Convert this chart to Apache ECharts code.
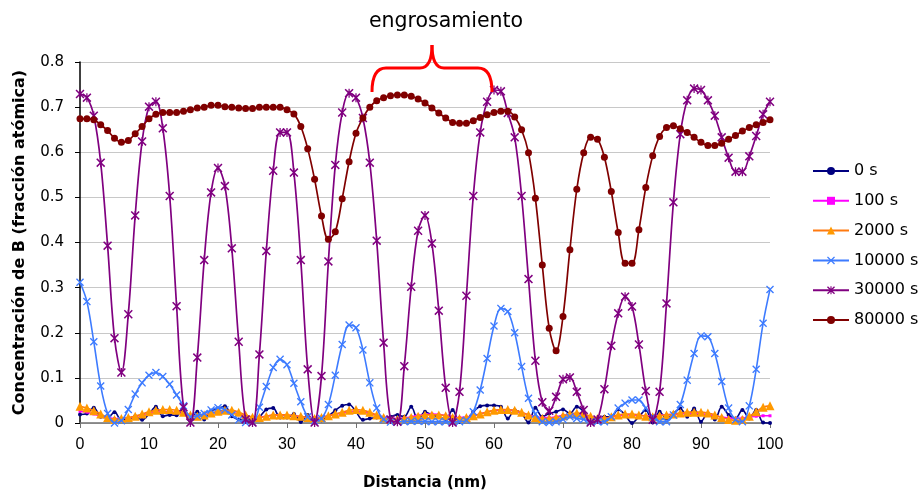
<!DOCTYPE html>
<html>
<head>
<meta charset="utf-8">
<script src="https://cdn.jsdelivr.net/npm/echarts@6/dist/echarts.min.js"></script>
<style>
html,body{margin:0;padding:0;background:#fff;}
#chart{width:920px;height:496px;}
</style>
</head>
<body>
<div id="chart"></div>
<script>
// ---- data ----
const seriesNames = ['0 s', '100 s', '2000 s', '10000 s', '30000 s', '80000 s'];
const xTicks = [0, 10, 20, 30, 40, 50, 60, 70, 80, 90, 100];
const distance = [0,1,2,3,4,5,6,7,8,9,10,11,12,13,14,15,16,17,18,19,20,21,22,23,24,25,26,27,28,29,30,31,32,33,34,35,36,37,38,39,40,41,42,43,44,45,46,47,48,49,50,51,52,53,54,55,56,57,58,59,60,61,62,63,64,65,66,67,68,69,70,71,72,73,74,75,76,77,78,79,80,81,82,83,84,85,86,87,88,89,90,91,92,93,94,95,96,97,98,99,100];

const s0 = [0.019,0.021,0.034,0.014,0.012,0.024,0.007,0.008,0.015,0.007,0.020,0.036,0.015,0.018,0.017,0.032,0.010,0.025,0.008,0.027,0.032,0.037,0.015,0.008,0.007,0.003,0.013,0.030,0.033,0.012,0.012,0.020,0.002,0.018,0.004,0.006,0.015,0.028,0.038,0.041,0.025,0.007,0.010,0.012,0.009,0.014,0.018,0.014,0.036,0.007,0.025,0.018,0.014,0.008,0.029,0.003,0.007,0.025,0.037,0.039,0.039,0.036,0.010,0.028,0.021,0.001,0.034,0.014,0.021,0.025,0.030,0.021,0.036,0.025,0.007,0.010,0.014,0.014,0.030,0.018,0.000,0.014,0.029,0.001,0.025,0.010,0.021,0.032,0.014,0.032,0.003,0.021,0.008,0.036,0.018,0.010,0.029,0.010,0.029,0.001,0.000];

const s100 = [0.026,0.024,0.020,0.015,0.012,0.010,0.010,0.011,0.014,0.018,0.022,0.025,0.026,0.025,0.023,0.020,0.017,0.016,0.018,0.021,0.024,0.025,0.024,0.020,0.016,0.013,0.013,0.015,0.017,0.018,0.017,0.016,0.014,0.012,0.012,0.013,0.016,0.019,0.022,0.025,0.026,0.025,0.021,0.017,0.013,0.010,0.010,0.011,0.014,0.017,0.019,0.020,0.019,0.017,0.014,0.012,0.013,0.016,0.020,0.024,0.027,0.029,0.029,0.027,0.023,0.018,0.014,0.012,0.012,0.014,0.017,0.019,0.020,0.018,0.014,0.011,0.011,0.013,0.016,0.018,0.018,0.017,0.016,0.016,0.017,0.018,0.019,0.020,0.021,0.021,0.020,0.019,0.016,0.013,0.011,0.010,0.011,0.013,0.015,0.016,0.016];

const s2000 = [0.037,0.033,0.027,0.020,0.012,0.008,0.010,0.012,0.015,0.020,0.025,0.028,0.030,0.030,0.028,0.024,0.018,0.015,0.018,0.022,0.026,0.028,0.028,0.024,0.018,0.013,0.012,0.015,0.018,0.018,0.018,0.016,0.015,0.012,0.010,0.012,0.016,0.020,0.024,0.028,0.030,0.028,0.024,0.018,0.012,0.008,0.008,0.010,0.012,0.015,0.018,0.018,0.018,0.016,0.012,0.010,0.012,0.016,0.020,0.025,0.028,0.030,0.030,0.028,0.024,0.018,0.012,0.010,0.010,0.012,0.016,0.020,0.022,0.020,0.015,0.010,0.010,0.014,0.018,0.020,0.020,0.018,0.015,0.014,0.016,0.018,0.020,0.022,0.024,0.024,0.024,0.022,0.018,0.012,0.008,0.006,0.008,0.015,0.025,0.035,0.038];

const s10000 = [0.312,0.269,0.180,0.082,0.021,0.000,0.005,0.030,0.064,0.089,0.106,0.112,0.103,0.086,0.062,0.038,0.014,0.016,0.021,0.029,0.034,0.029,0.018,0.007,0.001,0.001,0.035,0.081,0.123,0.141,0.129,0.088,0.047,0.014,0.005,0.010,0.041,0.106,0.174,0.217,0.211,0.162,0.089,0.033,0.008,0.002,0.003,0.003,0.004,0.004,0.004,0.003,0.003,0.003,0.002,0.003,0.006,0.025,0.073,0.143,0.215,0.254,0.247,0.200,0.125,0.055,0.020,0.003,0.001,0.003,0.008,0.014,0.010,0.008,0.003,0.003,0.003,0.014,0.033,0.044,0.051,0.051,0.033,0.014,0.003,0.003,0.018,0.041,0.095,0.154,0.193,0.191,0.154,0.092,0.033,0.007,0.003,0.038,0.119,0.221,0.296];

const s30000 = [0.729,0.721,0.681,0.577,0.393,0.188,0.112,0.241,0.460,0.624,0.701,0.712,0.653,0.503,0.259,0.035,0.001,0.145,0.361,0.511,0.565,0.525,0.387,0.180,0.008,0.001,0.152,0.381,0.559,0.644,0.644,0.555,0.361,0.119,0.001,0.104,0.358,0.572,0.688,0.731,0.721,0.676,0.577,0.404,0.178,0.008,0.003,0.126,0.302,0.426,0.460,0.398,0.249,0.078,0.001,0.069,0.282,0.503,0.644,0.712,0.738,0.735,0.687,0.633,0.503,0.319,0.138,0.046,0.027,0.058,0.097,0.101,0.069,0.029,0.001,0.008,0.075,0.171,0.243,0.280,0.258,0.174,0.071,0.007,0.069,0.265,0.489,0.640,0.715,0.741,0.738,0.715,0.681,0.633,0.588,0.557,0.557,0.591,0.636,0.684,0.712];

const s80000 = [0.674,0.674,0.672,0.661,0.648,0.631,0.622,0.626,0.641,0.657,0.674,0.684,0.688,0.688,0.688,0.691,0.694,0.698,0.700,0.704,0.704,0.701,0.700,0.698,0.697,0.697,0.700,0.700,0.700,0.700,0.694,0.685,0.657,0.608,0.540,0.459,0.407,0.424,0.497,0.579,0.642,0.676,0.700,0.714,0.721,0.725,0.727,0.727,0.724,0.718,0.709,0.698,0.687,0.676,0.666,0.664,0.664,0.670,0.677,0.683,0.688,0.691,0.691,0.678,0.650,0.599,0.498,0.350,0.210,0.160,0.236,0.384,0.518,0.599,0.633,0.629,0.589,0.513,0.422,0.354,0.354,0.428,0.522,0.592,0.635,0.655,0.659,0.652,0.644,0.633,0.622,0.615,0.615,0.620,0.629,0.637,0.647,0.655,0.661,0.666,0.672];

const annotationText = 'engrosamiento';
const xAxisTitle = 'Distancia (nm)';
const yAxisTitle = 'Concentración de B (fracción atómica)';

// ---- chart ----
const pair = arr => distance.map((x, i) => [x, arr[i]]);
const xSym = 'path://M0,1.2L1.2,0L5,3.8L8.8,0L10,1.2L6.2,5L10,8.8L8.8,10L5,6.2L1.2,10L0,8.8L3.8,5Z';
const starSym = 'path://M0,1.2L1.2,0L5,3.8L8.8,0L10,1.2L6.2,5L10,8.8L8.8,10L5,6.2L1.2,10L0,8.8L3.8,5ZM4.3,0L5.7,0L5.7,10L4.3,10Z';

const styles = [
  {line:'#000080', item:'#000080', symbol:'circle', size:4, width:1.6},
  {line:'#ff00ff', item:'#ff00ff', symbol:'rect', size:3, width:1.6},
  {line:'#ff7a10', item:'#ff9900', symbol:'triangle', size:9, width:1.6},
  {line:'#3d7bff', item:'#3d7bff', symbol:xSym, size:8, width:1.6},
  {line:'#800080', item:'#800080', symbol:starSym, size:9, width:1.7},
  {line:'#800000', item:'#800000', symbol:'circle', size:7, width:1.7}
];
const dataSets = [s0, s100, s2000, s10000, s30000, s80000];

const chart = echarts.init(document.getElementById('chart'), null, {renderer:'canvas'});
const wide = '"DejaVu Sans", "Liberation Sans", sans-serif';
const font = '"Liberation Sans", Arial, sans-serif';
const braceStyle = {stroke: '#ff0000', lineWidth: 3, fill: null};

chart.setOption({
  animation: false,
  backgroundColor: '#ffffff',
  textStyle: {fontFamily: wide},
  grid: {left: 80, right: 150, top: 62, bottom: 73, containLabel: false},
  legend: {
    orient: 'vertical',
    left: 807, top: 158,
    itemWidth: 36, itemHeight: 10, itemGap: 13.8,
    data: seriesNames,
    textStyle: {fontFamily: wide, fontSize: 16, color: '#000', lineHeight: 15}
  },
  xAxis: {
    type: 'value', min: 0, max: 100, interval: 10,
    name: xAxisTitle, nameLocation: 'middle', nameGap: 53,
    nameTextStyle: {fontFamily: wide, fontSize: 15, fontWeight: 'bold', color: '#000'},
    axisLine: {show: true, lineStyle: {color: '#707070', width: 1.5}},
    axisTick: {show: true, length: 5, lineStyle: {color: '#707070'}},
    axisLabel: {fontFamily: font, fontSize: 16, color: '#000', margin: 14},
    splitLine: {show: false}
  },
  yAxis: {
    type: 'value', min: 0, max: 0.8, interval: 0.1,
    name: yAxisTitle, nameLocation: 'middle', nameGap: 52, nameRotate: 90,
    nameTextStyle: {fontFamily: wide, fontSize: 16, fontWeight: 'bold', color: '#000'},
    axisLine: {show: true, lineStyle: {color: '#000', width: 1.5}},
    axisTick: {show: true, length: 5, lineStyle: {color: '#000'}},
    axisLabel: {fontFamily: wide, fontSize: 15, color: '#000', margin: 16},
    splitLine: {show: true, lineStyle: {color: '#c8c8c8', width: 1}}
  },
  series: seriesNames.map((name, k) => ({
    name: name,
    type: 'line',
    data: pair(dataSets[k]),
    smooth: 0.35,
    symbol: styles[k].symbol,
    symbolSize: styles[k].size,
    showSymbol: true,
    lineStyle: {color: styles[k].line, width: styles[k].width},
    itemStyle: {color: styles[k].item},
    emphasis: {disabled: true},
    clip: false,
    z: 2 + k
  })),
  graphic: [
    {type: 'text', x: 446, y: 22,
     style: {text: annotationText, fontFamily: wide, fontSize: 20.5, fill: '#000', textAlign: 'center', textVerticalAlign: 'middle'}},
    {type: 'bezierCurve', z: 100, shape: {x1: 372, y1: 92, x2: 386, y2: 68, cpx1: 372, cpy1: 68}, style: braceStyle},
    {type: 'line', z: 100, shape: {x1: 386, y1: 68, x2: 420, y2: 68}, style: braceStyle},
    {type: 'bezierCurve', z: 100, shape: {x1: 420, y1: 68, x2: 432, y2: 45, cpx1: 432, cpy1: 68}, style: braceStyle},
    {type: 'bezierCurve', z: 100, shape: {x1: 432, y1: 45, x2: 444, y2: 68, cpx1: 432, cpy1: 68}, style: braceStyle},
    {type: 'line', z: 100, shape: {x1: 444, y1: 68, x2: 478, y2: 68}, style: braceStyle},
    {type: 'bezierCurve', z: 100, shape: {x1: 478, y1: 68, x2: 492, y2: 92, cpx1: 492, cpy1: 68}, style: braceStyle}
  ]
});
</script>
</body>
</html>
